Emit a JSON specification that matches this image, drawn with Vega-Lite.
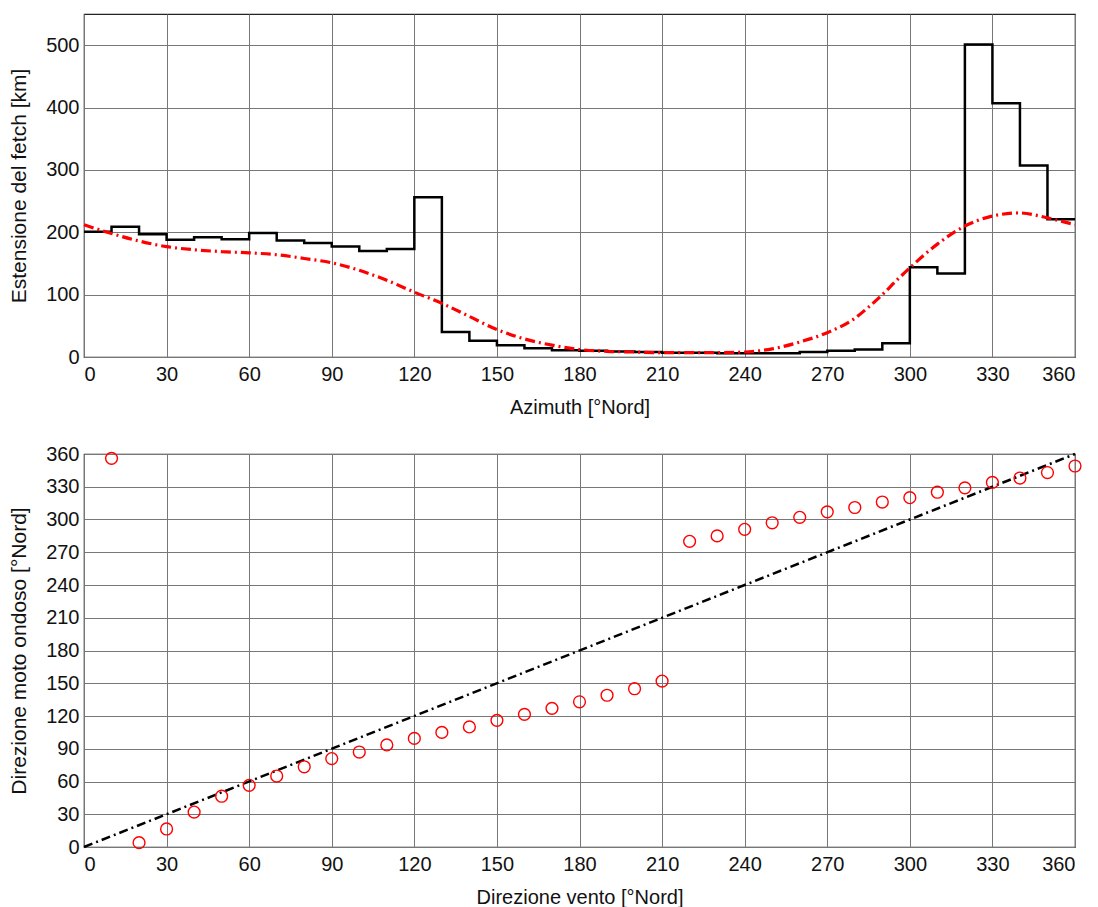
{
  "$schema": "https://vega.github.io/schema/vega-lite/v6.json",
  "padding": {"left": 8, "top": 13, "right": 20, "bottom": 0},
  "background": "white",
  "spacing": 25,
  "config": {
    "font": "Liberation Sans",
    "view": {"stroke": "#222", "strokeWidth": 1.2},
    "axis": {
      "labelFont": "Liberation Sans",
      "titleFont": "Liberation Sans",
      "labelFontSize": 20,
      "titleFontSize": 20,
      "titleFontWeight": "normal",
      "labelColor": "#111",
      "titleColor": "#111",
      "domain": false,
      "ticks": false,
      "gridColor": "#777",
      "gridWidth": 1,
      "gridOpacity": 1,
      "labelOverlap": false
    },
    "axisX": {"titlePadding": 13, "labelPadding": 7},
    "axisY": {"titlePadding": 16, "labelPadding": 5, "titleFontSize": 21}
  },
  "datasets": {
    "fetch": [
      {"az": 0, "km": 201}, {"az": 10, "km": 209}, {"az": 20, "km": 197}, {"az": 30, "km": 188},
      {"az": 40, "km": 192}, {"az": 50, "km": 189}, {"az": 60, "km": 199}, {"az": 70, "km": 187},
      {"az": 80, "km": 183}, {"az": 90, "km": 177}, {"az": 100, "km": 170}, {"az": 110, "km": 173},
      {"az": 120, "km": 256}, {"az": 130, "km": 40}, {"az": 140, "km": 26}, {"az": 150, "km": 19},
      {"az": 160, "km": 14}, {"az": 170, "km": 11}, {"az": 180, "km": 10}, {"az": 190, "km": 9},
      {"az": 200, "km": 8}, {"az": 210, "km": 7}, {"az": 220, "km": 7}, {"az": 230, "km": 6},
      {"az": 240, "km": 6}, {"az": 250, "km": 6}, {"az": 260, "km": 8}, {"az": 270, "km": 10},
      {"az": 280, "km": 12}, {"az": 290, "km": 22}, {"az": 300, "km": 144}, {"az": 310, "km": 134},
      {"az": 320, "km": 501}, {"az": 330, "km": 407}, {"az": 340, "km": 307}, {"az": 350, "km": 221},
      {"az": 360, "km": 221}
    ],
    "smooth": [
      {"az": 0, "km": 212}, {"az": 10, "km": 198}, {"az": 20, "km": 186}, {"az": 30, "km": 177},
      {"az": 40, "km": 172}, {"az": 50, "km": 169}, {"az": 60, "km": 167}, {"az": 70, "km": 164},
      {"az": 80, "km": 158}, {"az": 90, "km": 151}, {"az": 100, "km": 139}, {"az": 110, "km": 123},
      {"az": 120, "km": 104}, {"az": 130, "km": 86}, {"az": 140, "km": 65}, {"az": 150, "km": 44},
      {"az": 160, "km": 29}, {"az": 170, "km": 19}, {"az": 180, "km": 12}, {"az": 190, "km": 9},
      {"az": 200, "km": 8}, {"az": 210, "km": 7}, {"az": 220, "km": 7}, {"az": 230, "km": 7},
      {"az": 240, "km": 8}, {"az": 250, "km": 13}, {"az": 260, "km": 24}, {"az": 270, "km": 39},
      {"az": 280, "km": 62}, {"az": 285, "km": 80}, {"az": 290, "km": 100}, {"az": 295, "km": 122},
      {"az": 300, "km": 143}, {"az": 310, "km": 181}, {"az": 320, "km": 210}, {"az": 330, "km": 226},
      {"az": 340, "km": 231}, {"az": 350, "km": 223}, {"az": 360, "km": 212}
    ],
    "waves": [
      {"vento": 10, "onda": 356}, {"vento": 20, "onda": 4}, {"vento": 30, "onda": 16.5}, {"vento": 40, "onda": 32},
      {"vento": 50, "onda": 46.5}, {"vento": 60, "onda": 56.5}, {"vento": 70, "onda": 65}, {"vento": 80, "onda": 73.5},
      {"vento": 90, "onda": 81}, {"vento": 100, "onda": 87}, {"vento": 110, "onda": 93.5}, {"vento": 120, "onda": 99.5},
      {"vento": 130, "onda": 105}, {"vento": 140, "onda": 110}, {"vento": 150, "onda": 116}, {"vento": 160, "onda": 121.5},
      {"vento": 170, "onda": 127}, {"vento": 180, "onda": 133}, {"vento": 190, "onda": 139}, {"vento": 200, "onda": 145},
      {"vento": 210, "onda": 152}, {"vento": 220, "onda": 280}, {"vento": 230, "onda": 285}, {"vento": 240, "onda": 291},
      {"vento": 250, "onda": 297}, {"vento": 260, "onda": 302}, {"vento": 270, "onda": 307}, {"vento": 280, "onda": 311},
      {"vento": 290, "onda": 316}, {"vento": 300, "onda": 320}, {"vento": 310, "onda": 325}, {"vento": 320, "onda": 329},
      {"vento": 330, "onda": 334}, {"vento": 340, "onda": 338}, {"vento": 350, "onda": 343}, {"vento": 360, "onda": 349}
    ],
    "diag": [{"vento": 0, "onda": 0}, {"vento": 360, "onda": 360}]
  },
  "vconcat": [
    {
      "width": 991,
      "height": 343,
      "layer": [
        {
          "data": {"name": "fetch"},
          "mark": {"type": "line", "interpolate": "step-after", "color": "black", "strokeWidth": 2.5},
          "encoding": {
            "x": {"field": "az", "type": "quantitative", "scale": {"domain": [0, 360], "nice": false},
                  "axis": {"values": [0, 30, 60, 90, 120, 150, 180, 210, 240, 270, 300, 330, 360], "tickCount": 30, "title": "Azimuth [°Nord]"}},
            "y": {"field": "km", "type": "quantitative", "scale": {"domain": [0, 550], "nice": false},
                  "axis": {"values": [0, 100, 200, 300, 400, 500], "tickCount": 20, "title": "Estensione del fetch [km]"}}
          }
        },
        {
          "data": {"name": "smooth"},
          "mark": {"type": "line", "interpolate": "monotone", "color": "#ff0000", "strokeWidth": 3.2, "strokeDash": [10, 4, 2, 4]},
          "encoding": {
            "x": {"field": "az", "type": "quantitative"},
            "y": {"field": "km", "type": "quantitative"}
          }
        }
      ]
    },
    {
      "width": 991,
      "height": 393,
      "layer": [
        {
          "data": {"name": "diag"},
          "mark": {"type": "line", "color": "black", "strokeWidth": 2.5, "strokeDash": [9, 4, 2, 4]},
          "encoding": {
            "x": {"field": "vento", "type": "quantitative", "scale": {"domain": [0, 360], "nice": false},
                  "axis": {"values": [0, 30, 60, 90, 120, 150, 180, 210, 240, 270, 300, 330, 360], "tickCount": 30, "title": "Direzione vento [°Nord]"}},
            "y": {"field": "onda", "type": "quantitative", "scale": {"domain": [0, 360], "nice": false},
                  "axis": {"values": [0, 30, 60, 90, 120, 150, 180, 210, 240, 270, 300, 330, 360], "tickCount": 30, "title": "Direzione moto ondoso [°Nord]"}}
          }
        },
        {
          "data": {"name": "waves"},
          "mark": {"type": "point", "shape": "circle", "filled": false, "color": "#ff0000", "size": 140, "strokeWidth": 1.4, "opacity": 1, "clip": false},
          "encoding": {
            "x": {"field": "vento", "type": "quantitative"},
            "y": {"field": "onda", "type": "quantitative"}
          }
        }
      ]
    }
  ]
}
